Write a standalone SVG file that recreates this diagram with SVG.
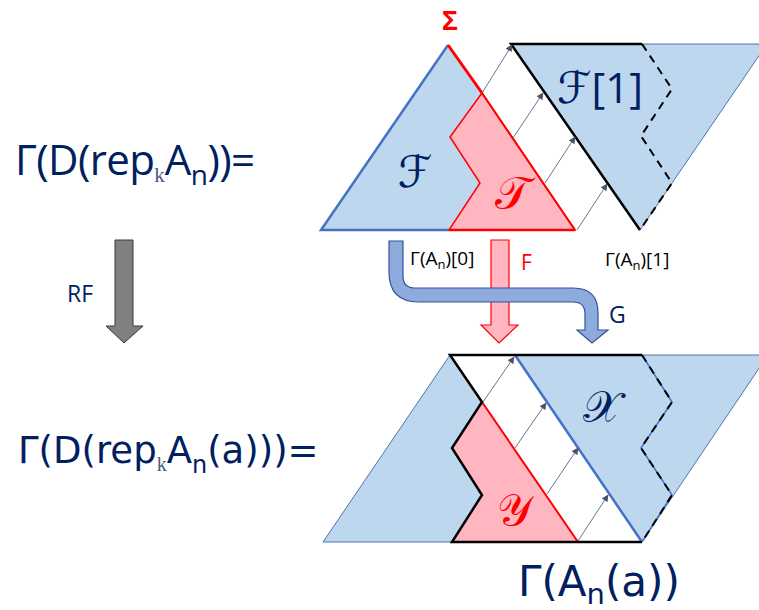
<svg xmlns="http://www.w3.org/2000/svg" width="759" height="610" viewBox="0 0 759 610">
<style>
.blue{fill:#BDD7EE}
.pink{fill:#FFB6C1}
.blk{fill:none;stroke:#000;stroke-width:2.5;stroke-linejoin:miter}
.dash{fill:none;stroke:#000;stroke-width:2;stroke-dasharray:8 6}
.thin{fill:none;stroke:#44546A;stroke-width:0.8}
.navy{fill:#002060}
.lbl{font-family:'Open Sans','Liberation Sans',sans-serif}
.cg{font-family:'DejaVu Sans','Liberation Sans',sans-serif}
.scr{font-family:'DejaVu Serif','DejaVu Sans','Noto Sans',serif}
</style>
<defs>
<marker id="ah" viewBox="0 0 10 10" refX="9" refY="5" markerWidth="7" markerHeight="7" orient="auto" markerUnits="userSpaceOnUse">
<path d="M0,0 L10,5 L0,10 Z" fill="#44546A"/>
</marker>
</defs>

<g id="label-top-left">
<text class="lbl navy" x="15" y="175" font-size="42" letter-spacing="-0.6">Γ(D(rep<tspan font-family="Liberation Serif" font-size="21" dy="7" fill="#4A5A80" letter-spacing="0">k</tspan><tspan dy="-7">A</tspan><tspan font-size="28" dy="10">n</tspan><tspan dy="-10">))=</tspan></text>
</g>

<g id="label-bottom-left">
<text class="cg navy" x="18" y="463" font-size="37">Γ(D(rep<tspan font-family="Liberation Serif" font-size="20" dy="8" fill="#4A5A80">k</tspan><tspan dy="-8">A</tspan><tspan font-size="24" dy="10">n</tspan><tspan dy="-10">(a)))=</tspan></text>
</g>

<g id="rf-arrow">
<path d="M115,240 L133,240 L133,326 L143,326 L124,343 L106,326 L115,326 Z" fill="#808080" stroke="#3A3A3A" stroke-width="1"/>
<text class="lbl navy" x="67" y="302" font-size="23">RF</text>
</g>

<g id="top-diagram">
<g id="node-F">
<polygon class="blue" points="321,230 448,45 575,230"/>
<polyline points="449,230 321,230 448,45" fill="none" stroke="#4472C4" stroke-width="2.5"/>
</g>
<g id="node-T">
<polygon class="pink" points="482,93 450,137 480,183 449,230 575,230" stroke="#FF0000" stroke-width="1.5"/>
<line x1="449" y1="230" x2="575" y2="230" stroke="#FF0000" stroke-width="2.5"/>
<line x1="448" y1="45" x2="482" y2="93" stroke="#FF0000" stroke-width="3"/>
<line x1="482" y1="93" x2="575" y2="230" stroke="#FF0000" stroke-width="2"/>
</g>
<g id="node-F1">
<polygon class="blue" points="511,44 767,44 640,230" stroke="#2F5597" stroke-width="0.8"/>
<polyline class="blk" points="640,230 511,44 642,44"/>
<polyline class="dash" points="642,44 672,89 641,136 672,183 640,230"/>
</g>
<text class="lbl" x="450" y="30" font-size="27" font-weight="bold" fill="#FF0000" text-anchor="middle">Σ</text>
<text class="scr navy" x="415" y="187" font-size="44" text-anchor="middle">ℱ</text>
<text class="scr" x="512" y="209" font-size="46" fill="#FF0000" text-anchor="middle">𝒯</text>
<text class="navy" x="600" y="103" font-size="42" text-anchor="middle"><tspan class="scr" font-size="44">ℱ</tspan><tspan class="lbl">[1]</tspan></text>
</g>

<g id="bottom-diagram">
<g id="node-left-blue">
<polygon class="blue" points="323,542 450,355 482,402 452,448 482,495 452,542" stroke="#2F5597" stroke-width="0.8"/>
</g>
<g id="node-Y">
<polygon class="pink" points="482,402 452,448 482,495 452,542 578,542"/>
<line x1="482" y1="402" x2="578" y2="542" stroke="#FF0000" stroke-width="2"/>
<line x1="450" y1="355" x2="482" y2="402" stroke="#FF0000" stroke-width="1.5"/>
</g>
<g id="node-X">
<polygon class="blue" points="515,355 768,355 642,542" stroke="#2F5597" stroke-width="0.8"/>
<line x1="515" y1="355" x2="642" y2="542" stroke="#4472C4" stroke-width="2.5"/>
</g>
<g id="outline">
<polyline class="blk" points="642,355 450,355 482,402 452,448 482,495 452,542 642,542"/>
<polyline points="642,355 672,402 641,448 672,495 642,542" fill="none" stroke="#4472C4" stroke-width="1.5"/>
<polyline class="dash" points="642,355 672,402 641,448 672,495 642,542"/>
</g>
<text class="scr navy" x="602" y="422" font-size="44" text-anchor="middle">𝒳</text>
<text class="scr" x="514" y="525" font-size="44" fill="#FF0000" text-anchor="middle">𝒴</text>
<text class="cg navy" x="518" y="596" font-size="42">Γ(A<tspan font-size="29" dy="8">n</tspan><tspan dy="-8">(a))</tspan></text>
</g>

<g id="connectors">
<line class="thin" x1="482" y1="93" x2="512" y2="45" marker-end="url(#ah)"/>
<line class="thin" x1="513" y1="138" x2="543" y2="93" marker-end="url(#ah)"/>
<line class="thin" x1="545" y1="183" x2="575" y2="137" marker-end="url(#ah)"/>
<line class="thin" x1="577" y1="230" x2="607" y2="184" marker-end="url(#ah)"/>
<line class="thin" x1="483" y1="402" x2="514" y2="357" marker-end="url(#ah)"/>
<line class="thin" x1="515" y1="448" x2="546" y2="403" marker-end="url(#ah)"/>
<line class="thin" x1="547" y1="494" x2="578" y2="448" marker-end="url(#ah)"/>
<line class="thin" x1="578" y1="541" x2="608" y2="495" marker-end="url(#ah)"/>
<g id="arrow-F">
<path d="M491,240 L509,240 L509,325 L518,325 L499,343 L481,325 L491,325 Z" fill="#FFB6C1" stroke="#FF0000" stroke-width="1.2"/>
</g>
<g id="arrow-G">
<path d="M389,241 L403,241 L403,276 Q403,288 415,288 L573,288 Q598,288 598,313 L598,330 L608,330 L592,343 L577,330 L585,330 L585,314 Q585,302 573,302 L419,302 Q389,302 389,272 Z" fill="#8FAADC" stroke="#2F5597" stroke-width="1.2"/>
</g>
<text class="lbl" x="410" y="265" font-size="19" fill="#000">Γ(A<tspan font-size="13" dy="4">n</tspan><tspan dy="-4">)[0]</tspan></text>
<text class="lbl" x="521" y="270" font-size="21" fill="#FF0000">F</text>
<text class="lbl" x="605" y="266" font-size="19" fill="#000">Γ(A<tspan font-size="13" dy="4">n</tspan><tspan dy="-4">)[1]</tspan></text>
<text class="lbl navy" x="609" y="323" font-size="23">G</text>
</g>
</svg>
